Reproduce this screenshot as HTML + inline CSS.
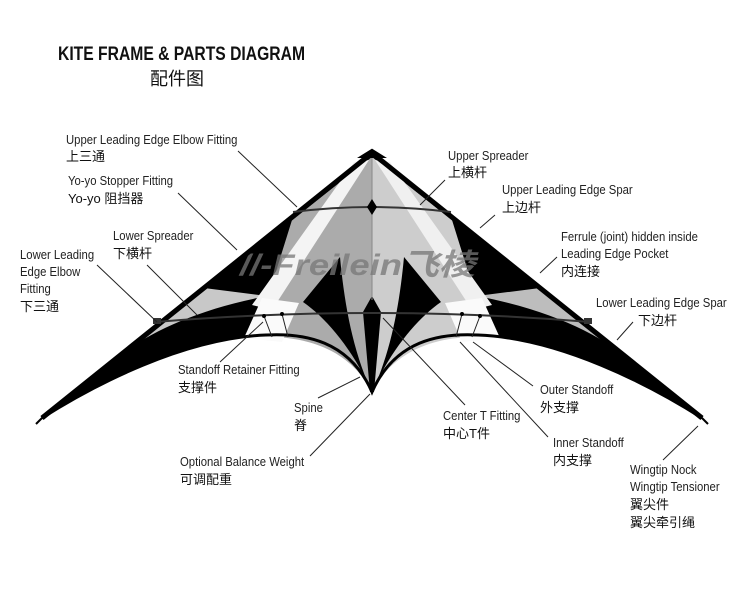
<!DOCTYPE html>
<html><head><meta charset="utf-8"><style>
html,body{margin:0;padding:0;background:#fff;}
svg{display:block;}
.l{font-family:"Liberation Sans","Noto Sans CJK SC",sans-serif;font-size:13px;fill:#222;}
.c{font-family:"Liberation Sans","Noto Sans CJK SC",sans-serif;font-size:13px;fill:#111;}
.ln{stroke:#222;stroke-width:1;fill:none;}
</style></head><body>
<svg width="740" height="600" viewBox="0 0 740 600" xmlns="http://www.w3.org/2000/svg">
<defs>
<path id="cg" d="M372,157 L452,220 L476,297 L500,338 C460,334 400,338 372,392 Z"/>
<path id="ws" d="M375,160 L390,162 L492,305 L472,310 Z"/>
<path id="wp" d="M445,303 L482,298 L500,338 L462,342 Z"/>
<path id="ba" d="M441,302 L404,257 C400,300 392,350 372,392 C392,348 418,318 441,302 Z"/>
<path id="ob" d="M477,296 L540,288 L643,371 C610,340 560,312 477,296 Z"/>
</defs>
<path d="M372,153 L702,418 C650,385 560,338 478,335 C440,333 395,340 372,392 C349,340 304,333 266,335 C184,338 94,385 42,418 Z" fill="#000"/>
<use href="#cg" fill="#cdcdcd"/>
<use href="#ob" fill="#bdbdbd"/>
<use href="#ws" fill="#f0f0f0"/>
<use href="#wp" fill="#fafafa"/>
<use href="#ba" fill="#000"/>
<g transform="translate(744,0) scale(-1,1)">
<use href="#cg" fill="#ababab"/>
<use href="#ob" fill="#c8c8c8"/>
<use href="#ws" fill="#f4f4f4"/>
<use href="#wp" fill="#fafafa"/>
<use href="#ba" fill="#000"/>
</g>
<polygon points="372,296 381,312 374,392 370,392 363,312" fill="#000"/>
<line x1="372" y1="157" x2="372" y2="300" stroke="#888" stroke-width="1"/>
<text x="240" y="275" font-family="Liberation Sans,sans-serif" font-style="italic" font-weight="bold" font-size="30" fill="#777" opacity="0.75" textLength="235" lengthAdjust="spacingAndGlyphs">//-Freilein<tspan font-family="Noto Sans CJK SC,sans-serif">飞棱</tspan></text>
<path d="M42,418 L372,153 L702,418" stroke="#000" stroke-width="5" fill="none" stroke-linejoin="round"/>
<path d="M364,156 L372,151 L380,156 Z" fill="#000" stroke="#000" stroke-width="4"/>
<path d="M702,418 C650,385 560,338 478,335 C440,333 395,340 372,392 C349,340 304,333 266,335 C184,338 94,385 42,418" stroke="#000" stroke-width="3" fill="none"/>
<line x1="36" y1="424" x2="44" y2="416" stroke="#000" stroke-width="2"/>
<line x1="700" y1="416" x2="708" y2="424" stroke="#000" stroke-width="2"/>
<path d="M293,212 Q372,202 451,212" stroke="#333" stroke-width="2" fill="none"/>
<polygon points="372,199 377,207 372,215 367,207" fill="#000"/>
<path d="M155,322 Q372,304 590,322" stroke="#333" stroke-width="2" fill="none"/>
<g stroke="#222" stroke-width="1">
<line x1="264" y1="316" x2="272" y2="337"/><line x1="282" y1="314" x2="288" y2="337"/>
<line x1="480" y1="316" x2="472" y2="337"/><line x1="462" y1="314" x2="456" y2="337"/>
</g>
<g fill="#000"><circle cx="264" cy="316" r="2"/><circle cx="282" cy="314" r="2"/><circle cx="462" cy="314" r="2"/><circle cx="480" cy="316" r="2"/></g>
<rect x="153" y="318" width="8" height="6" fill="#333"/><rect x="584" y="318" width="8" height="6" fill="#333"/>
<g class="ln">
<line x1="238" y1="151" x2="297" y2="207"/>
<line x1="178" y1="193" x2="237" y2="250"/>
<line x1="147" y1="265" x2="197" y2="315"/>
<line x1="97" y1="265" x2="157" y2="322"/>
<line x1="220" y1="362" x2="263" y2="322"/>
<line x1="318" y1="398" x2="360" y2="377"/>
<line x1="310" y1="456" x2="370" y2="394"/>
<line x1="465" y1="405" x2="383" y2="318"/>
<line x1="548" y1="437" x2="460" y2="342"/>
<line x1="533" y1="386" x2="473" y2="342"/>
<line x1="663" y1="460" x2="698" y2="426"/>
<line x1="633" y1="322" x2="617" y2="340"/>
<line x1="557" y1="257" x2="540" y2="273"/>
<line x1="495" y1="215" x2="480" y2="228"/>
<line x1="445" y1="180" x2="420" y2="205"/>
</g>
<text x="58" y="60" font-family="Liberation Sans,sans-serif" font-size="19" font-weight="bold" fill="#111" textLength="247" lengthAdjust="spacingAndGlyphs">KITE FRAME &amp; PARTS DIAGRAM</text>
<text x="150" y="85" font-family="Liberation Sans,Noto Sans CJK SC,sans-serif" font-size="18" fill="#111">配件图</text>
<g class="l">
<text transform="translate(66,144) scale(.87,1)">Upper Leading Edge Elbow Fitting</text>
<text transform="translate(68,185) scale(.87,1)">Yo-yo Stopper Fitting</text>
<text transform="translate(113,240) scale(.87,1)">Lower Spreader</text>
<text transform="translate(20,259) scale(.87,1)">Lower Leading</text>
<text transform="translate(20,276) scale(.87,1)">Edge Elbow</text>
<text transform="translate(20,293) scale(.87,1)">Fitting</text>
<text transform="translate(178,374) scale(.87,1)">Standoff Retainer Fitting</text>
<text transform="translate(294,412) scale(.87,1)">Spine</text>
<text transform="translate(180,466) scale(.87,1)">Optional Balance Weight</text>
<text transform="translate(443,420) scale(.87,1)">Center T Fitting</text>
<text transform="translate(540,394) scale(.87,1)">Outer Standoff</text>
<text transform="translate(553,447) scale(.87,1)">Inner Standoff</text>
<text transform="translate(630,474) scale(.87,1)">Wingtip Nock</text>
<text transform="translate(630,491) scale(.87,1)">Wingtip Tensioner</text>
<text transform="translate(596,307) scale(.87,1)">Lower Leading Edge Spar</text>
<text transform="translate(561,241) scale(.87,1)">Ferrule (joint) hidden inside</text>
<text transform="translate(561,258) scale(.87,1)">Leading Edge Pocket</text>
<text transform="translate(502,194) scale(.87,1)">Upper Leading Edge Spar</text>
<text transform="translate(448,160) scale(.87,1)">Upper Spreader</text>
</g>
<text class="c" x="66" y="161">上三通</text>
<text class="c" x="68" y="203">Yo-yo 阻挡器</text>
<text class="c" x="113" y="258">下横杆</text>
<text class="c" x="20" y="311">下三通</text>
<text class="c" x="178" y="392">支撑件</text>
<text class="c" x="294" y="430">脊</text>
<text class="c" x="180" y="484">可调配重</text>
<text class="c" x="443" y="438">中心T件</text>
<text class="c" x="540" y="412">外支撑</text>
<text class="c" x="553" y="465">内支撑</text>
<text class="c" x="630" y="509">翼尖件</text>
<text class="c" x="630" y="527">翼尖牵引绳</text>
<text class="c" x="638" y="325">下边杆</text>
<text class="c" x="561" y="276">内连接</text>
<text class="c" x="502" y="212">上边杆</text>
<text class="c" x="448" y="177">上横杆</text>
</svg>
</body></html>
